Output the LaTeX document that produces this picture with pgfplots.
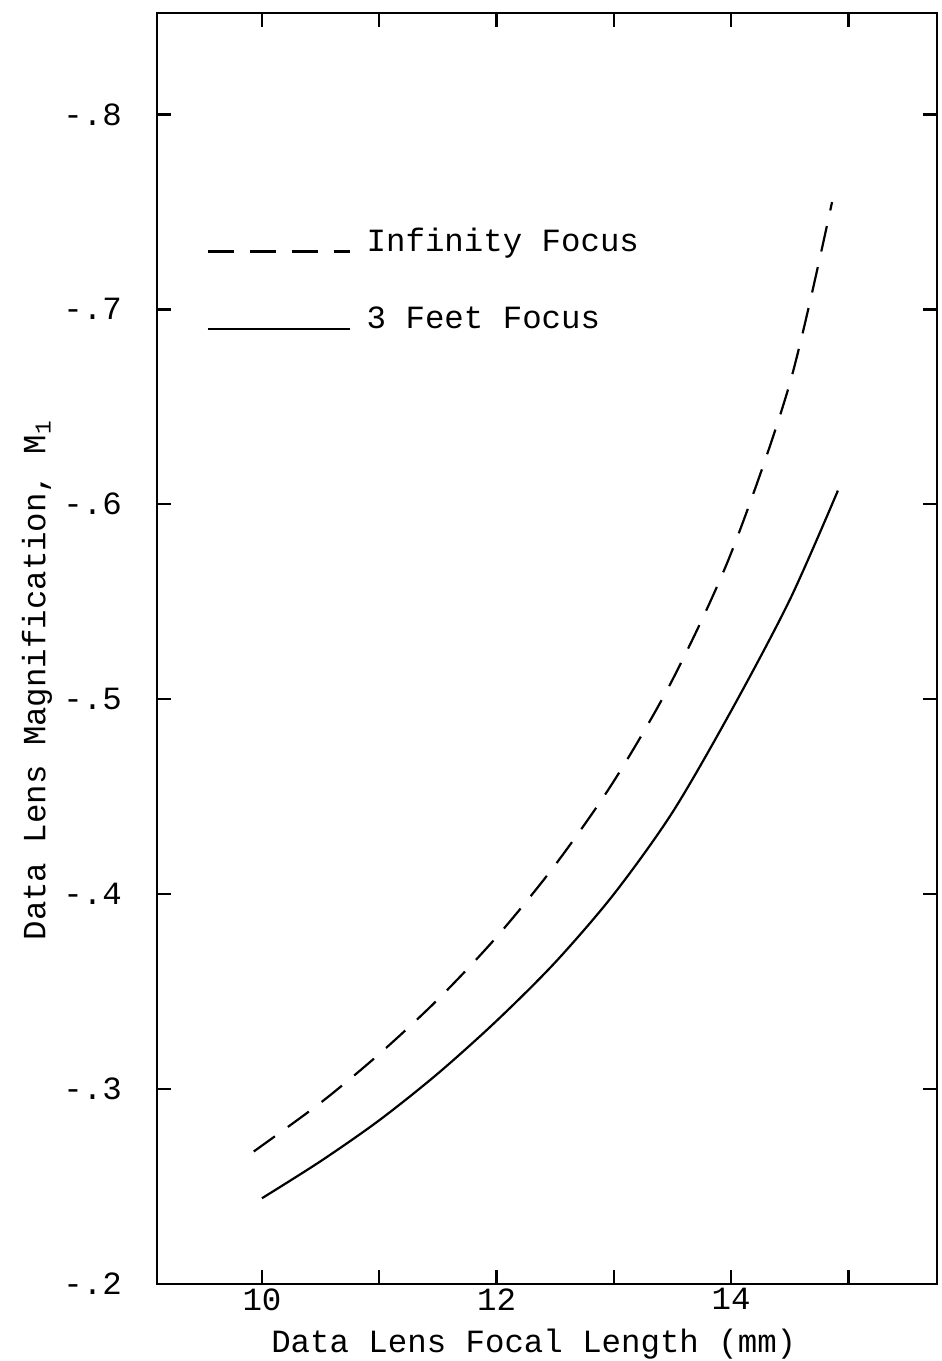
\documentclass[border=0pt]{standalone}
\usepackage{fontspec}
\setmainfont{Liberation Mono}
\usepackage{pgfplots}
\pgfplotsset{compat=1.18}
\begin{document}
\fontsize{16.2}{19}\selectfont
\begin{tikzpicture}
\begin{axis}[
  at={(0pt,0pt)}, anchor=south west,
  scale only axis, width=390pt, height=635.5pt,
  xmin=9.105, xmax=15.755, ymin=-0.852, ymax=-0.2, y dir=reverse,
  axis line style={line width=1.4pt},
  every tick/.style={black, line width=1.2pt},
  major tick length=7pt,
  tick align=inside,
  tick pos=both,
  xtick={10,11,12,13,14,15}, xticklabels={10,,12,,14,},
  ytick={-0.8,-0.7,-0.6,-0.5,-0.4,-0.3,-0.2},
  yticklabels={-.8,-.7,-.6,-.5,-.4,-.3,-.2},
  ticklabel style={font=\fontsize{16.2}{19}\selectfont},
  yticklabel style={xshift=-12pt},
  xticklabel style={yshift=-1pt, inner sep=1pt},
  xlabel={Data Lens Focal Length (mm)},
  ylabel={Data Lens Magnification, M\textsubscript{1}},
  label style={font=\fontsize{16.2}{19}\selectfont},
  every axis x label/.style={at={(axis description cs:0.483,0)}, anchor=center, yshift=-30pt, inner sep=1pt},
  every axis y label/.style={at={(axis description cs:-0.12,0.475)}, anchor=south, rotate=90},
  legend style={draw=none, fill=none, at={(axis description cs:0.063,0.834)}, anchor=north west,
    font=\fontsize{16.2}{19}\selectfont, row sep=21pt, inner sep=0pt,
    nodes={inner sep=2pt}},
  legend cell align=left,
  legend image code/.code={\draw[#1] (0pt,-4.5pt) -- (71pt,-4.5pt); \path (0pt,4.5pt) (77pt,0pt);},
]
\addplot[black, line width=1.1pt, smooth, dash pattern=on 13pt off 8pt] coordinates {
(9.93,-0.268) (10.5,-0.293) (11.0,-0.318) (11.5,-0.346) (12.0,-0.378)
(12.5,-0.415) (13.0,-0.458) (13.5,-0.510) (14.0,-0.575) (14.5,-0.662) (14.86,-0.755)
};
\addlegendentry{Infinity Focus}
\addplot[black, line width=1.1pt, smooth] coordinates {
(10.0,-0.244) (10.5,-0.263) (11.0,-0.284) (11.5,-0.308) (12.0,-0.335)
(12.5,-0.365) (13.0,-0.400) (13.5,-0.442) (14.0,-0.494) (14.5,-0.551) (14.91,-0.607)
};
\addlegendentry{3 Feet Focus}
\end{axis}
\pgfresetboundingbox
\path (-78.5pt,-38.5pt) rectangle (392.5pt,642pt);
\end{tikzpicture}
\end{document}
